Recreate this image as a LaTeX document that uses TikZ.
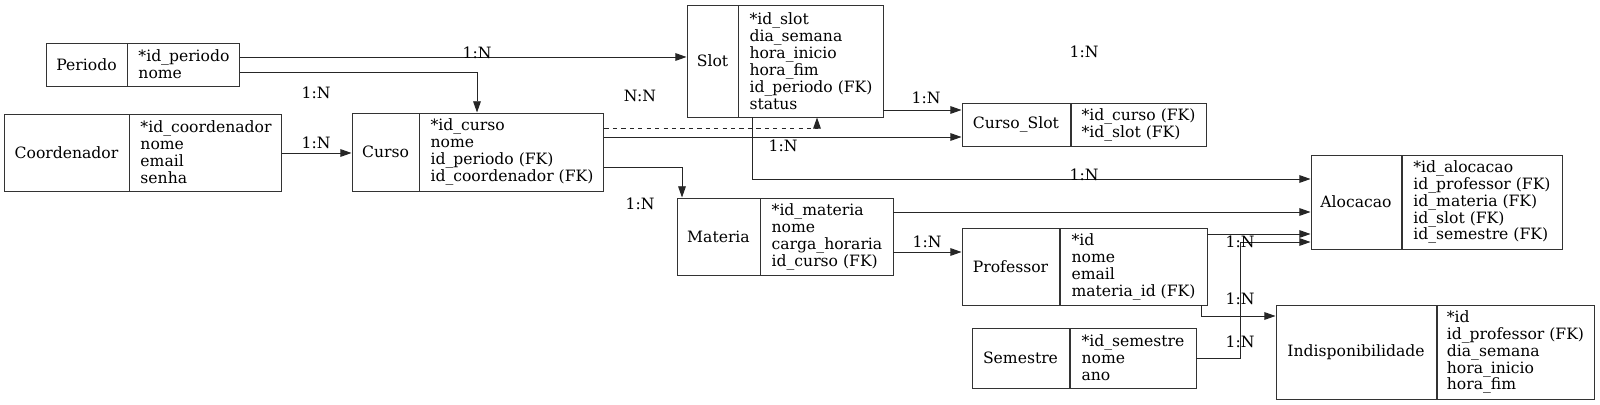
\documentclass[tikz,border=0pt]{standalone}
\usepackage{fontspec}
\setmainfont{DejaVu Serif}
\usetikzlibrary{shapes,arrows.meta,positioning,calc}
\def\px{0.025cm}

\begin{document}
\begin{tikzpicture}[x=0.025cm, y=-0.025cm, font=\fontsize{11.1}{12.05}\selectfont]
  \tikzstyle{ent}=[rectangle, draw=black!80, line width=0.7pt, inner sep=0pt]
  \tikzstyle{attr}=[ent, align=left]
  \tikzstyle{rel}=[-{Triangle[length=8pt,width=5.5pt]}, draw=black!85, line width=0.7pt]
  \tikzstyle{card}=[inner sep=0pt]

  \useasboundingbox (0,0) rectangle (1600,405);

  % Entidades
  \node[ent, minimum width=81*\px, minimum height=43*\px] (periodo) at (86.5,64.5) {Periodo};
  \node[attr, minimum width=112*\px, minimum height=43*\px, right=0pt of periodo] (periodoF) {*id\_periodo\\nome};

  \node[ent, minimum width=125*\px, minimum height=77*\px] (coord) at (66.5,152.5) {Coordenador};
  \node[attr, minimum width=152*\px, minimum height=77*\px, right=0pt of coord] (coordF) {*id\_coordenador\\nome\\email\\senha};

  \node[ent, minimum width=67*\px, minimum height=78*\px] (curso) at (385.5,152) {Curso};
  \node[attr, minimum width=184*\px, minimum height=78*\px, right=0pt of curso] (cursoF) {*id\_curso\\nome\\id\_periodo (FK)\\id\_coordenador (FK)};

  \node[ent, minimum width=51*\px, minimum height=112*\px] (slot) at (712.5,61) {Slot};
  \node[attr, minimum width=144*\px, minimum height=112*\px, right=0pt of slot] (slotF) {*id\_slot\\dia\_semana\\hora\_inicio\\hora\_fim\\id\_periodo (FK)\\status};

  \node[ent, minimum width=108*\px, minimum height=43*\px] (cslot) at (1016,124.5) {Curso\_Slot};
  \node[attr, minimum width=135*\px, minimum height=43*\px, right=0pt of cslot] (cslotF) {*id\_curso (FK)\\*id\_slot (FK)};

  \node[ent, minimum width=83*\px, minimum height=77*\px] (materia) at (718.5,236.5) {Materia};
  \node[attr, minimum width=132*\px, minimum height=77*\px, right=0pt of materia] (materiaF) {*id\_materia\\nome\\carga\_horaria\\id\_curso (FK)};

  \node[ent, minimum width=97*\px, minimum height=77*\px] (prof) at (1010.5,266.5) {Professor};
  \node[attr, minimum width=147*\px, minimum height=77*\px, right=0pt of prof] (profF) {*id\\nome\\email\\materia\_id (FK)};

  \node[ent, minimum width=97*\px, minimum height=60*\px] (sem) at (1020.5,358) {Semestre};
  \node[attr, minimum width=126*\px, minimum height=60*\px, right=0pt of sem] (semF) {*id\_semestre\\nome\\ano};

  \node[ent, minimum width=90*\px, minimum height=94*\px] (aloc) at (1356,202) {Alocacao};
  \node[attr, minimum width=160*\px, minimum height=94*\px, right=0pt of aloc] (alocF) {*id\_alocacao\\id\_professor (FK)\\id\_materia (FK)\\id\_slot (FK)\\id\_semestre (FK)};

  \node[ent, minimum width=160*\px, minimum height=94*\px] (indisp) at (1356,352) {Indisponibilidade};
  \node[attr, minimum width=157*\px, minimum height=94*\px, right=0pt of indisp] (indispF) {*id\\id\_professor (FK)\\dia\_semana\\hora\_inicio\\hora\_fim};

  % Relacionamentos
  \draw[rel] (periodoF.east |- 0,57) -- (slot.west |- 0,57);
  \draw[rel] (periodoF.east |- 0,72) -| (477,0 |- curso.north);
  \draw[rel] (coordF.east |- 0,153) -- (curso.west |- 0,153);
  \draw[rel, dashed] (cursoF.east |- 0,128) -| (817,0 |- slot.south);
  \draw[rel] (cursoF.east |- 0,137) -- (cslot.west |- 0,137);
  \draw[rel] (slotF.east |- 0,110) -- (cslot.west |- 0,110);
  \draw[rel] (cursoF.east |- 0,167) -| (682,0 |- materia.north);
  \draw[rel] (752,0 |- slotF.south) |- (aloc.west |- 0,179);
  \draw[rel] (materiaF.east |- 0,212) -- (aloc.west |- 0,212);
  \draw[rel] (materiaF.east |- 0,252) -- (prof.west |- 0,252);
  \draw[rel] (profF.east |- 0,234) -- (aloc.west |- 0,234);
  \draw[rel] (1201,0 |- profF.south) |- (indisp.west |- 0,316);
  \draw[rel] (semF.east |- 0,358) -| (1240,242) -- (aloc.west |- 0,242);

  % Cardinalidades
  \node[card] (c1) at (477,53) {1:N};
  \node[card] (c2) at (316,93) {1:N};
  \node[card] (c3) at (316,143) {1:N};
  \node[card] (c4) at (640,96) {N:N};
  \node[card] (c5) at (783,146) {1:N};
  \node[card] (c6) at (926,98) {1:N};
  \node[card] (c7) at (640,204) {1:N};
  \node[card] (c8) at (927,242) {1:N};
  \node[card] (c9) at (1084,175) {1:N};
  \node[card] (c10) at (1084,52) {1:N};
  \node[card] (c11) at (1240,242) {1:N};
  \node[card] (c12) at (1240,299) {1:N};
  \node[card] (c13) at (1240,342) {1:N};
\end{tikzpicture}
\end{document}
